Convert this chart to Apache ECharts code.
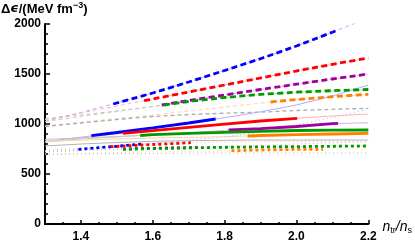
<!DOCTYPE html>
<html><head><meta charset="utf-8">
<script src="https://cdn.jsdelivr.net/npm/echarts@6/dist/echarts.min.js"></script>
<style>html,body{margin:0;padding:0;background:#fff}#c{width:415px;height:248px}</style>
</head><body><div id="c"></div>
<script>
// ---------- data ----------
const X = [1.3, 1.4, 1.5, 1.6, 1.7, 1.8, 1.9, 2.0, 2.1, 2.2];
const xTickLabels = [1.4, 1.6, 1.8, 2.0, 2.2];

// thin (full-range) curves, dashed family
const dashBlue   = [1025, 1115, 1210, 1310, 1420, 1535, 1653, 1780, 1918, 2060];
const dashRed    = [1045, 1110, 1180, 1250, 1320, 1390, 1460, 1530, 1597, 1660];
const dashPurple = [1050, 1090, 1130, 1175, 1235, 1290, 1345, 1398, 1450, 1500];
const dashGreen  = [1025, 1075, 1125, 1175, 1225, 1265, 1296, 1318, 1333, 1345];
const dashOrange = [980, 1018, 1055, 1090, 1130, 1170, 1208, 1245, 1273, 1297];
const dashGray   = [975, 1010, 1045, 1075, 1095, 1108, 1118, 1135, 1147, 1157];
// thin curves, solid family
const solidBlue   = [823, 868, 915, 962, 1010, 1063, 1122, 1190, 1280, 1390];
const solidRed    = [818, 860, 901, 934, 967, 999, 1030, 1057, 1080, 1100];
const solidPurple = [847, 860, 875, 892, 912, 937, 953, 975, 1003, 1013];
const solidGreen  = [827, 850, 870, 893, 906, 917, 927, 935, 938, 940];
const solidOrange = [825, 838, 850, 860, 866, 873, 885, 893, 900, 907];
const solidGray   = [780, 800, 815, 827, 833, 837, 840, 840, 840, 840];
// thin curves, dotted family
const dotBlue   = [725, 749, 777, 810, 840, 870, 920, 990, 1065, 1150];
const dotRed    = [735, 757, 776, 795, 812, 820, 823, 825, 826, 827];
const dotPurple = [725, 737, 748, 757, 763, 775, 787, 800, 812, 823];
const dotGreen  = [720, 733, 745, 755, 762, 767, 771, 774, 777, 780];
const dotOrange = [700, 708, 715, 721, 726, 732, 740, 746, 748, 750];
const dotGray   = [695, 700, 705, 707, 709, 710, 710, 710, 710, 710];

// thick segments
const dashBlueTX = [1.49, 1.6, 1.7, 1.8, 1.9, 2.0, 2.1, 2.116];
const dashBlueTY = [1200, 1310, 1420, 1535, 1653, 1780, 1918, 1940];
const dashRedTX = [1.576, 1.6, 1.7, 1.8, 1.9, 2.0, 2.1, 2.2];
const dashRedTY = [1233, 1250, 1320, 1390, 1460, 1530, 1597, 1660];
const dashPurpleTX = [1.625, 1.7, 1.8, 1.9, 2.0, 2.1, 2.2];
const dashPurpleTY = [1190, 1235, 1290, 1345, 1398, 1450, 1500];
const dashGreenTX = [1.631, 1.7, 1.8, 1.9, 2.0, 2.1, 2.2];
const dashGreenTY = [1190, 1225, 1265, 1296, 1318, 1333, 1345];
const dashOrangeTX = [1.928, 2.0, 2.1, 2.2];
const dashOrangeTY = [1220, 1245, 1273, 1297];

const solidBlueTX = [1.429, 1.5, 1.6, 1.7, 1.775];
const solidBlueTY = [883, 915, 962, 1010, 1050];
const solidRedTX = [1.517, 1.6, 1.7, 1.8, 1.9, 2.002];
const solidRedTY = [907, 934, 967, 999, 1030, 1057];
const solidPurpleTX = [1.811, 1.9, 2.0, 2.1, 2.116];
const solidPurpleTY = [940, 953, 975, 1003, 1007];
const solidGreenTX = [1.565, 1.6, 1.7, 1.8, 1.9, 2.0, 2.1, 2.2];
const solidGreenTY = [885, 893, 906, 917, 927, 935, 938, 940];
const solidOrangeTX = [1.864, 1.9, 2.0, 2.1, 2.2];
const solidOrangeTY = [880, 885, 893, 900, 907];

const dotBlueTX = [1.393, 1.5, 1.573];
const dotBlueTY = [747, 777, 800];
const dotRedTX = [1.482, 1.5, 1.6, 1.706];
const dotRedTY = [773, 776, 795, 813];
const dotPurpleTX = [1.517, 1.6, 1.7, 1.728];
const dotPurpleTY = [750, 757, 763, 765];
const dotGreenTX = [1.517, 1.6, 1.7, 1.8, 1.9, 2.0, 2.1, 2.2];
const dotGreenTY = [747, 755, 762, 767, 771, 774, 777, 780];
const dotOrangeTX = [1.819, 1.9, 2.0, 2.074];
const dotOrangeTY = [733, 740, 746, 747];

// ---------- styles ----------
const C = {blue:'#0000ff', red:'#ff0000', purple:'#a000a0', green:'#009a00', orange:'#ff8000'};
const L = {blue:'#aeaeff', red:'#ffb4b8', purple:'#e2aee2', green:'#b0deb0', orange:'#ffd4a8', gray:'#b4b4b4'};
const DASH_THIN = [4, 3], DOT_THIN = [1, 3], DASH_THICK = [6, 3.5], DOT_THICK = [3, 3];

function pairs(xs, ys) { return xs.map((x, i) => [x, ys[i]]); }
function thin(ys, color, type, w) {
  return {type:'line', data: pairs(X, ys), symbol:'none', silent:true, z:2,
    lineStyle:{color, width: w || 1, type, cap:'butt'}};
}
function thick(xs, ys, color, type) {
  return {type:'line', data: pairs(xs, ys), symbol:'none', silent:true, z:5,
    lineStyle:{color, width: 2.8, type, cap:'butt'}};
}

const series = [
  thin(dashBlue, L.blue, DASH_THIN), thin(dashRed, L.red, DASH_THIN), thin(dashPurple, L.purple, DASH_THIN),
  thin(dashGreen, L.green, DASH_THIN), thin(dashOrange, L.orange, DASH_THIN), thin(dashGray, '#ababab', DASH_THIN, 1.3),
  thin(solidBlue, L.blue, 'solid'), thin(solidRed, L.red, 'solid'), thin(solidPurple, L.purple, 'solid'),
  thin(solidGreen, L.green, 'solid'), thin(solidOrange, L.orange, 'solid'), thin(solidGray, L.gray, 'solid'),
  thin(dotBlue, L.blue, DOT_THIN), thin(dotRed, L.red, DOT_THIN), thin(dotPurple, L.purple, DOT_THIN),
  thin(dotGreen, L.green, DOT_THIN), thin(dotOrange, L.orange, DOT_THIN), thin(dotGray, L.gray, DOT_THIN),
  thick(dashBlueTX, dashBlueTY, C.blue, DASH_THICK), thick(dashRedTX, dashRedTY, C.red, DASH_THICK),
  thick(dashPurpleTX, dashPurpleTY, C.purple, DASH_THICK), thick(dashGreenTX, dashGreenTY, C.green, DASH_THICK),
  thick(dashOrangeTX, dashOrangeTY, C.orange, DASH_THICK),
  thick(solidBlueTX, solidBlueTY, C.blue, 'solid'), thick(solidRedTX, solidRedTY, C.red, 'solid'),
  thick(solidPurpleTX, solidPurpleTY, C.purple, 'solid'), thick(solidGreenTX, solidGreenTY, C.green, 'solid'),
  thick(solidOrangeTX, solidOrangeTY, C.orange, 'solid'),
  thick(dotBlueTX, dotBlueTY, C.blue, DOT_THICK), thick(dotRedTX, dotRedTY, C.red, DOT_THICK),
  thick(dotPurpleTX, dotPurpleTY, C.purple, DOT_THICK), thick(dotGreenTX, dotGreenTY, C.green, DOT_THICK),
  thick(dotOrangeTX, dotOrangeTY, C.orange, DOT_THICK)
];

const FONT = 'Liberation Sans';
const labelStyle = {color:'#000', fontFamily: FONT, fontWeight:'bold', fontSize: 12};

const chart = echarts.init(document.getElementById('c'), null, {renderer:'canvas'});
chart.setOption({
  animation: false,
  backgroundColor: '#fff',
  title: {
    text: '{d|Δ}{e|ϵ}{d|/(MeV fm}{s|−3}{d|)}',
    left: 1, top: 1, padding: 0,
    textStyle: {rich: {
      d: {fontFamily: FONT, fontWeight:'bold', fontSize: 13, color:'#000', lineHeight: 16},
      e: {fontFamily: 'DejaVu Sans', fontStyle:'italic', fontWeight:'bold', fontSize: 13, color:'#000', lineHeight: 16},
      s: {fontFamily: FONT, fontWeight:'bold', fontSize: 9, color:'#000', lineHeight: 10, verticalAlign:'top'}
    }}
  },
  grid: {left: 45, right: 45, top: 24, bottom: 24},
  xAxis: [{
    type:'value', min: 1.3, max: 2.2, interval: 0.05, position:'bottom',
    axisLine:{show:true, lineStyle:{color:'#000', width: 2}},
    axisTick:{show:true, inside:true, length: 2, lineStyle:{color:'#000', width: 1.5}},
    axisLabel:{show:false}, splitLine:{show:false}
  }, {
    type:'value', min: 1.3, max: 2.2, position:'bottom',
    axisLine:{show:false},
    axisTick:{show:true, inside:true, length: 4, customValues: xTickLabels, lineStyle:{color:'#000', width: 1.5}},
    axisLabel:Object.assign({show:true, margin: 7, customValues: xTickLabels, formatter: v => v.toFixed(1)}, labelStyle),
    splitLine:{show:false},
    name: '{n|n}{b|tr}{n|/}{n|n}{b|s}', nameLocation:'end', nameGap: 3,
    nameTextStyle: {padding:[7,0,0,0], rich: {
      n: {fontFamily: FONT, fontStyle:'italic', fontSize: 14, color:'#000', lineHeight: 16},
      b: {fontFamily: FONT, fontSize: 9, color:'#000', lineHeight: 10, verticalAlign:'bottom'}
    }}
  }],
  yAxis: {
    type:'value', min: 0, max: 2000, interval: 500,
    axisLine:{show:true, lineStyle:{color:'#000', width: 2}},
    axisTick:{show:true, inside:true, length: 5, lineStyle:{color:'#000', width: 1.5}},
    minorTick:{show:true, splitNumber: 5, length: 3, lineStyle:{color:'#000', width: 1.5}},
    axisLabel:Object.assign({margin: 4, formatter: v => String(v)}, labelStyle),
    splitLine:{show:false}, minorSplitLine:{show:false}
  },
  series
});
</script></body></html>
